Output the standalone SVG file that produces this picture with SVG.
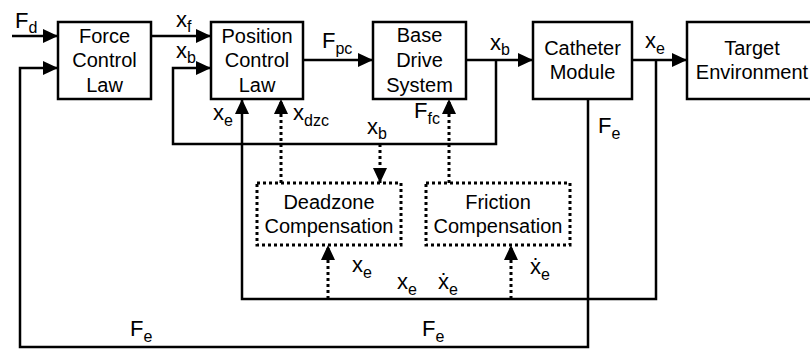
<svg xmlns="http://www.w3.org/2000/svg" width="810" height="350" viewBox="0 0 810 350">
<defs>
<marker id="ah" viewBox="0 0 15 14" refX="15" refY="7" markerWidth="15" markerHeight="14" markerUnits="userSpaceOnUse" orient="auto">
<path d="M0,0 L15,7 L0,14 z" fill="#000"/>
</marker>
<style>
.box{fill:#fff;stroke:#000;stroke-width:2.5}
.dbox{fill:#fff;stroke:#000;stroke-width:3;stroke-dasharray:3 3}
.t{font-family:"Liberation Sans",Arial,sans-serif;font-size:20px;fill:#000;text-anchor:middle}
.l{font-family:"Liberation Sans",Arial,sans-serif;font-size:22px;fill:#000}
.s{font-size:16px}
.w{fill:none;stroke:#000;stroke-width:2.5}
.d{fill:none;stroke:#000;stroke-width:3;stroke-dasharray:3 3}
</style>
</defs>
<rect width="810" height="350" fill="#fff"/>
<g id="connectors">
<path class="w" d="M12,36 H58" marker-end="url(#ah)"/>
<path class="w" d="M151,36 H211" marker-end="url(#ah)"/>
<path class="w" d="M303,60 H373" marker-end="url(#ah)"/>
<path class="w" d="M466,60 H533" marker-end="url(#ah)"/>
<path class="w" d="M632,60 H687" marker-end="url(#ah)"/>
<path class="w" d="M496,60 V144 H173 V68 H211" marker-end="url(#ah)"/>
<path class="w" d="M588,99 V347 H20 V68 H58" marker-end="url(#ah)"/>
<path class="w" d="M656,60 V299 H242 V99" marker-end="url(#ah)"/>
<path class="d" d="M281,183 V99" marker-end="url(#ah)"/>
<path class="d" d="M380,144 V183" marker-end="url(#ah)"/>
<path class="d" d="M449,183 V99" marker-end="url(#ah)"/>
<path class="d" d="M328,299 V245" marker-end="url(#ah)"/>
<path class="d" d="M511,299 V245" marker-end="url(#ah)"/>
</g>
<g id="force-control-law">
<rect class="box" x="58" y="22" width="93" height="77"/>
<text class="t" x="104.5" y="43">Force</text>
<text class="t" x="104.5" y="67">Control</text>
<text class="t" x="104.5" y="92">Law</text>
</g>
<g id="position-control-law">
<rect class="box" x="211" y="22" width="92" height="77"/>
<text class="t" x="257" y="43">Position</text>
<text class="t" x="257" y="67">Control</text>
<text class="t" x="257" y="92">Law</text>
</g>
<g id="base-drive-system">
<rect class="box" x="373" y="22" width="93" height="77"/>
<text class="t" x="419.5" y="42">Base</text>
<text class="t" x="419.5" y="67">Drive</text>
<text class="t" x="419.5" y="92">System</text>
</g>
<g id="catheter-module">
<rect class="box" x="533" y="22" width="99" height="77"/>
<text class="t" x="582.5" y="55">Catheter</text>
<text class="t" x="582.5" y="79">Module</text>
</g>
<g id="target-environment">
<rect class="box" x="687" y="22" width="130" height="77"/>
<text class="t" x="752" y="55">Target</text>
<text class="t" x="752" y="79">Environment</text>
</g>
<g id="deadzone-compensation">
<rect class="dbox" x="257" y="183" width="144" height="62"/>
<text class="t" x="329" y="209">Deadzone</text>
<text class="t" x="329" y="233">Compensation</text>
</g>
<g id="friction-compensation">
<rect class="dbox" x="426" y="183" width="144" height="62"/>
<text class="t" x="498" y="209">Friction</text>
<text class="t" x="498" y="233">Compensation</text>
</g>
<g id="labels">
<text class="l" x="15" y="28">F<tspan class="s" dy="5">d</tspan></text>
<text class="l" x="176" y="27">x<tspan class="s" dy="5">f</tspan></text>
<text class="l" x="176" y="58">x<tspan class="s" dy="5">b</tspan></text>
<text class="l" x="322" y="48">F<tspan class="s" dy="6">pc</tspan></text>
<text class="l" x="490" y="50">x<tspan class="s" dy="5">b</tspan></text>
<text class="l" x="645" y="48">x<tspan class="s" dy="6">e</tspan></text>
<text class="l" x="598" y="133">F<tspan class="s" dy="6">e</tspan></text>
<text class="l" x="213" y="120">x<tspan class="s" dy="6">e</tspan></text>
<text class="l" x="293" y="120">x<tspan class="s" dy="6">dzc</tspan></text>
<text class="l" x="367" y="134">x<tspan class="s" dy="5">b</tspan></text>
<text class="l" x="414" y="118">F<tspan class="s" dy="6">fc</tspan></text>
<text class="l" x="352" y="272">x<tspan class="s" dy="6">e</tspan></text>
<text class="l" x="397" y="289">x<tspan class="s" dy="6">e</tspan></text>
<text class="l" x="438" y="289">ẋ<tspan class="s" dy="6">e</tspan></text>
<text class="l" x="530" y="274">ẋ<tspan class="s" dy="6">e</tspan></text>
<text class="l" x="130" y="336">F<tspan class="s" dy="6">e</tspan></text>
<text class="l" x="422" y="336">F<tspan class="s" dy="6">e</tspan></text>
</g>
</svg>
